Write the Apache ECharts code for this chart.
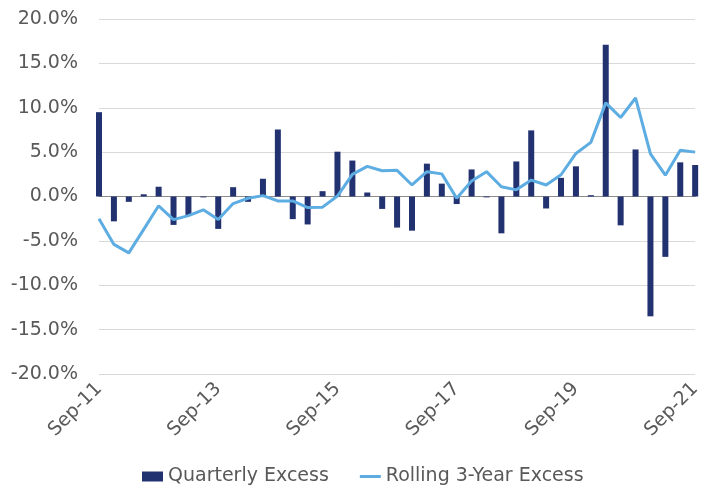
<!DOCTYPE html>
<html>
<head>
<meta charset="utf-8">
<script src="https://cdn.jsdelivr.net/npm/echarts@6/dist/echarts.min.js"></script>
<style>
body{margin:0;padding:0;background:#fff;}
#chart{width:704px;height:485px;}
</style>
</head>
<body>
<div id="chart"></div>
<script type="text/javascript">
// quarters, Sep-11 .. Sep-21
var quarters = ['Sep-11','Dec-11','Mar-12','Jun-12','Sep-12','Dec-12','Mar-13','Jun-13',
    'Sep-13','Dec-13','Mar-14','Jun-14','Sep-14','Dec-14','Mar-15','Jun-15',
    'Sep-15','Dec-15','Mar-16','Jun-16','Sep-16','Dec-16','Mar-17','Jun-17',
    'Sep-17','Dec-17','Mar-18','Jun-18','Sep-18','Dec-18','Mar-19','Jun-19',
    'Sep-19','Dec-19','Mar-20','Jun-20','Sep-20','Dec-20','Mar-21','Jun-21','Sep-21'];

// values in %
var quarterlyExcess = [9.5,-2.8,-0.6,0.25,1.1,-3.2,-2.1,-0.1,
    -3.65,1.05,-0.6,2.0,7.55,-2.55,-3.15,0.6,
    5.05,4.05,0.45,-1.4,-3.5,-3.85,3.7,1.45,
    -0.85,3.05,-0.1,-4.15,3.95,7.45,-1.35,2.1,
    3.4,0.15,17.1,-3.25,5.3,-13.5,-6.8,3.85,3.55];

var rolling3yExcess = [-2.5,-5.4,-6.35,-3.7,-1.05,-2.6,-2.15,-1.5,
    -2.6,-0.8,-0.2,0.1,-0.5,-0.5,-1.25,-1.2,
    0.05,2.5,3.4,2.9,2.95,1.3,2.8,2.55,
    -0.2,1.75,2.8,1.1,0.75,1.85,1.3,2.45,
    4.85,6.1,10.55,8.9,11.1,4.8,2.4,5.2,5.0];

var yTicks = {min: -20, max: 20, step: 5};

var chart = echarts.init(document.getElementById('chart'));
var txt = '#595959';
var fnt = 'DejaVu Sans';
var option = {
    animation: false,
    color: ['#223170', '#5DADE2'],
    grid: {
        left: 99,
        right: 5,
        top: 19,
        bottom: 111,
        containLabel: false
    },
    legend: {
        top: 462,
        left: 137,
        itemGap: 31,
        itemWidth: 21,
        itemHeight: 10,
        textStyle: {fontFamily: fnt, fontSize: 19, color: txt},
        data: [
            {name: 'Quarterly Excess', icon: 'rect'},
            {name: 'Rolling 3-Year Excess', icon: 'path://M0,0 M21,10 M0,3.5 L21,3.5 L21,6.5 L0,6.5 Z'}
        ]
    },
    xAxis: {
        type: 'category',
        boundaryGap: false,
        data: quarters,
        axisLine: {onZero: true, lineStyle: {color: '#8c8c8c', width: 1}},
        axisTick: {show: false},
        axisLabel: {
            interval: 7,
            rotate: 45,
            margin: 12,
            fontFamily: fnt,
            fontSize: 19,
            color: txt
        },
        splitLine: {show: false}
    },
    yAxis: {
        type: 'value',
        min: yTicks.min,
        max: yTicks.max,
        interval: yTicks.step,
        axisLine: {show: false},
        axisTick: {show: false},
        axisLabel: {
            margin: 21,
            fontFamily: fnt,
            fontSize: 19,
            color: txt,
            formatter: function (v) { return v.toFixed(1) + '%'; }
        },
        splitLine: {lineStyle: {color: '#d9d9d9', width: 1}}
    },
    series: [
        {
            name: 'Quarterly Excess',
            type: 'bar',
            data: quarterlyExcess,
            barWidth: 6,
            clip: false,
            itemStyle: {color: '#223170'}
        },
        {
            name: 'Rolling 3-Year Excess',
            type: 'line',
            data: rolling3yExcess,
            symbol: 'none',
            lineStyle: {width: 3, color: '#5DADE2'},
            itemStyle: {color: '#5DADE2'}
        }
    ]
};
chart.setOption(option);
</script>
</body>
</html>
